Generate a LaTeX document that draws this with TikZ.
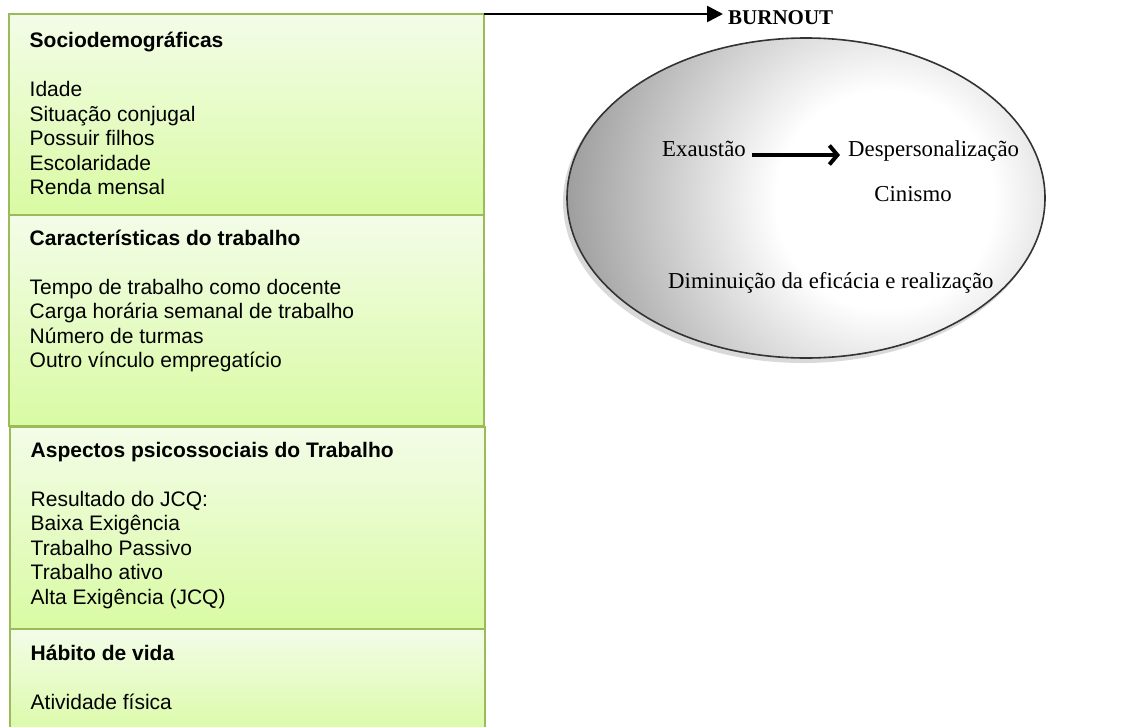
\documentclass[tikz,border=0pt]{standalone}
\usepackage{fontspec}
\setmainfont{Liberation Sans}
\newfontfamily\elfont{Liberation Serif}
\usetikzlibrary{arrows.meta}
\definecolor{boxborder}{HTML}{9BBB59}
\definecolor{boxtop}{HTML}{F3FCE8}
\definecolor{boxbot}{HTML}{D9FBA3}
\definecolor{ellborder}{HTML}{333333}
\pgfdeclareradialshading{burnshade}{\pgfpoint{0bp}{0bp}}{color(0bp)=(white); color(8bp)=(white); color(25bp)=(black!42); color(50bp)=(black!42)}
\tikzset{
  box/.style={draw=boxborder, line width=2pt, top color=boxtop, bottom color=boxbot,
    inner sep=0pt, outer sep=0pt, anchor=north west, minimum width=475pt},
  boxtext/.style={anchor=base west, inner sep=0pt, font=\fontsize{21}{24.5}\selectfont},
  elltext/.style={anchor=base west, inner sep=0pt, font=\elfont\fontsize{22.8}{26}\selectfont},
}
\begin{document}
\begin{tikzpicture}[x=1pt,y=-1pt]
\useasboundingbox (0,0) rectangle (1127,726);
\clip (0,0) rectangle (1127,726);
% boxes
\node[box, minimum height=201pt] (b1) at (9,14) {};
\node[box, minimum height=211pt] (b2) at (9,215) {};
\node[box, minimum height=202pt] (b3) at (10,427) {};
\node[box, minimum height=111pt] (b4) at (10,629) {};
% box texts
\node[boxtext] (t1) at (29.5,47.5) {\begin{tabular}[t]{@{}l@{}}\textbf{Sociodemográficas}\\[24.5pt]
Idade\\ Situação conjugal\\ Possuir filhos\\ Escolaridade\\ Renda mensal\end{tabular}};
\node[boxtext] (t2) at (29.5,245) {\begin{tabular}[t]{@{}l@{}}\textbf{Características do trabalho}\\[24.5pt]
Tempo de trabalho como docente\\ Carga horária semanal de trabalho\\ Número de turmas\\ Outro vínculo empregatício\end{tabular}};
\node[boxtext] (t3) at (30.5,457) {\begin{tabular}[t]{@{}l@{}}\textbf{Aspectos psicossociais do Trabalho}\\[24.5pt]
Resultado do JCQ:\\ Baixa Exigência\\ Trabalho Passivo\\ Trabalho ativo\\ Alta Exigência (JCQ)\end{tabular}};
\node[boxtext] (t4) at (30.5,660) {\begin{tabular}[t]{@{}l@{}}\textbf{Hábito de vida}\\[24.5pt]
Atividade física\end{tabular}};
% ellipse
\fill[black!15] (803,202) ellipse [x radius=240, y radius=161];
\begin{scope}
\clip (806,198) ellipse [x radius=239, y radius=160];
\shade[shading=burnshade] (885,200) circle [radius=340];
\end{scope}
\draw[ellborder, line width=1.6pt] (806,198) ellipse [x radius=239, y radius=160];
% burnout title
\node[anchor=base west, inner sep=0pt, font=\elfont\bfseries\fontsize{21}{24}\selectfont] (burnout) at (728,24) {BURNOUT};
\draw[line width=2.6pt, -{Triangle[length=16pt,width=16pt]}, shorten >=5pt] (b1.north east) -- (b1.north east -| burnout.west);
% ellipse texts
\node[elltext] (exa) at (662,156) {Exaustão};
\node[elltext] (desp) at (848,156) {Despersonalização};
\node[elltext, anchor=base] (cin) at (913,201) {Cinismo};
\node[elltext] (dim) at (668,288) {Diminuição da eficácia e realização};
\draw[line width=4pt, -{Straight Barb[length=8pt,width=19pt]}] ([xshift=6pt,yshift=1pt]exa.base east) -- ([xshift=-8pt,yshift=1pt]desp.base west);
\end{tikzpicture}
\end{document}
